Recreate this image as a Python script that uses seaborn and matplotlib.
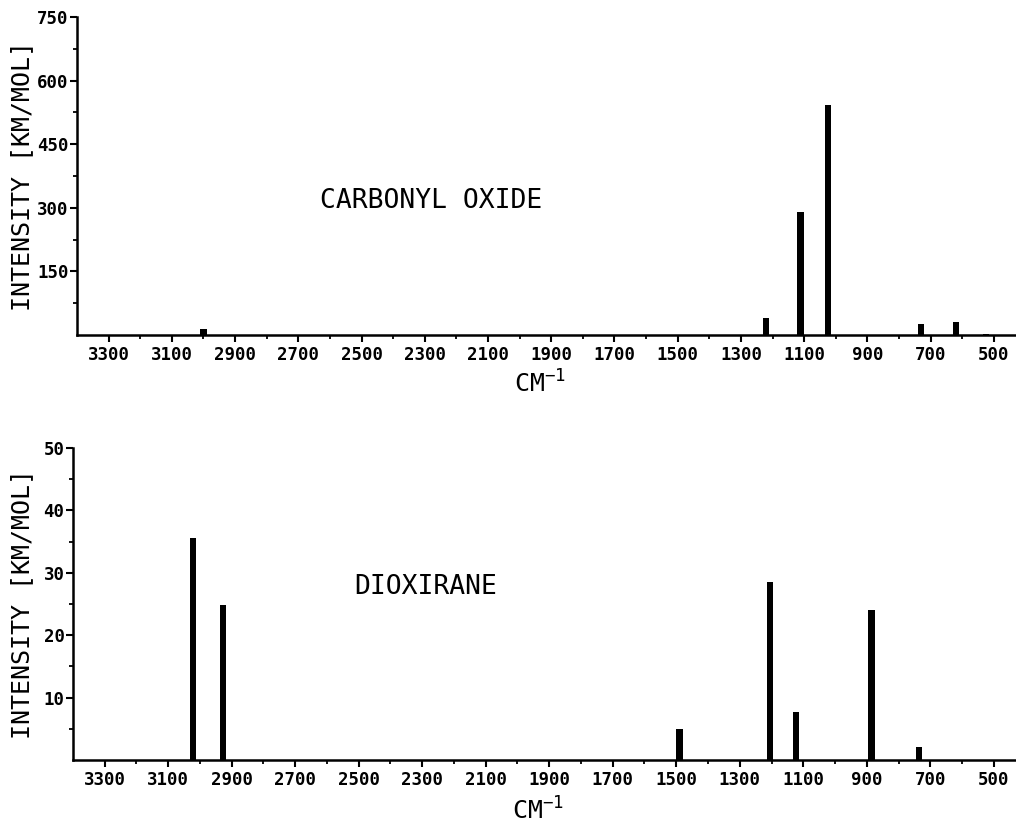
import numpy as np
import pandas as pd
import matplotlib
matplotlib.use("Agg")
import matplotlib.pyplot as plt
import seaborn as sns

# computed IR stick spectra (wavenumber in cm-1, intensity in km/mol)
carbonyl_freq = [3165, 3000, 1220, 1112, 1025, 730, 620, 525]
carbonyl_int = [1, 15, 39, 290, 542, 25, 31, 3]

dioxirane_freq = [3022, 2927, 1490, 1205, 1122, 885, 735]
dioxirane_int = [35.6, 24.8, 4.9, 28.5, 7.7, 24.0, 2.1]

x_major = list(range(3300, 400, -200))
x_minor = list(range(3200, 400, -200))
top_yticks = [150, 300, 450, 600, 750]
top_yminor = [75, 225, 375, 525, 675]
bot_yticks = [10, 20, 30, 40, 50]
bot_yminor = [5, 15, 25, 35, 45]

sns.set_style("ticks")
plt.rcParams['font.family'] = ['DejaVu Sans Mono', 'DejaVu Sans']
plt.rcParams['mathtext.fontset'] = 'dejavusans'
for key in ['text.color', 'axes.labelcolor', 'xtick.color', 'ytick.color']:
    plt.rcParams[key] = 'black'

fig = plt.figure(figsize=(10.16, 8.24), dpi=100)
ax1 = fig.add_axes([0.0758, 0.5934, 0.9242, 0.386])
ax2 = fig.add_axes([0.0718, 0.0777, 0.9282, 0.3786])

panels = [
    (ax1, carbonyl_freq, carbonyl_int, "CARBONYL OXIDE", (0.377, 0.42), 750,
     top_yticks, top_yminor, -0.11, -0.046),
    (ax2, dioxirane_freq, dioxirane_int, "DIOXIRANE", (0.374, 0.555), 50,
     bot_yticks, bot_yminor, -0.12, -0.041),
]

for ax, freq, inten, name, pos, ymax, yt, ym, xl_y, yl_x in panels:
    df = pd.DataFrame({"freq": freq, "intensity": inten})
    mind = np.min(np.diff(np.sort(freq)))
    sns.barplot(data=df, x="freq", y="intensity", native_scale=True,
                width=20.0 / mind, color="black", linewidth=0, ax=ax)
    ax.set_xlim(3400, 430)
    ax.set_ylim(0, ymax)
    ax.set_xticks(x_major)
    ax.set_xticks(x_minor, minor=True)
    ax.set_yticks(yt)
    ax.set_yticks(ym, minor=True)
    ax.tick_params(axis="both", which="major", direction="out", length=5, width=1.5,
                   color="black", labelcolor="black", labelsize=12.5)
    ax.tick_params(axis="both", which="minor", direction="out", length=3, width=1.3,
                   color="black")
    ax.tick_params(axis="x", pad=3)
    ax.tick_params(axis="y", pad=1)
    for lab in ax.get_xticklabels() + ax.get_yticklabels():
        lab.set_fontweight("bold")
    sns.despine(ax=ax)
    for sp in ["left", "bottom"]:
        ax.spines[sp].set_linewidth(1.8)
        ax.spines[sp].set_color("black")
    ax.set_xlabel(r"CM$^{\mathtt{-1}}$", fontsize=18, labelpad=2, color="black")
    ax.xaxis.set_label_coords(0.493, xl_y)
    ax.set_ylabel("INTENSITY [KM/MOL]", fontsize=18, labelpad=2, color="black")
    ax.yaxis.set_label_coords(yl_x, 0.5)
    ax.text(pos[0], pos[1], name, transform=ax.transAxes, fontsize=19,
            ha="center", va="center", color="black")
    ax.set_facecolor("white")

fig.savefig("out.png", dpi=100, facecolor="white")
